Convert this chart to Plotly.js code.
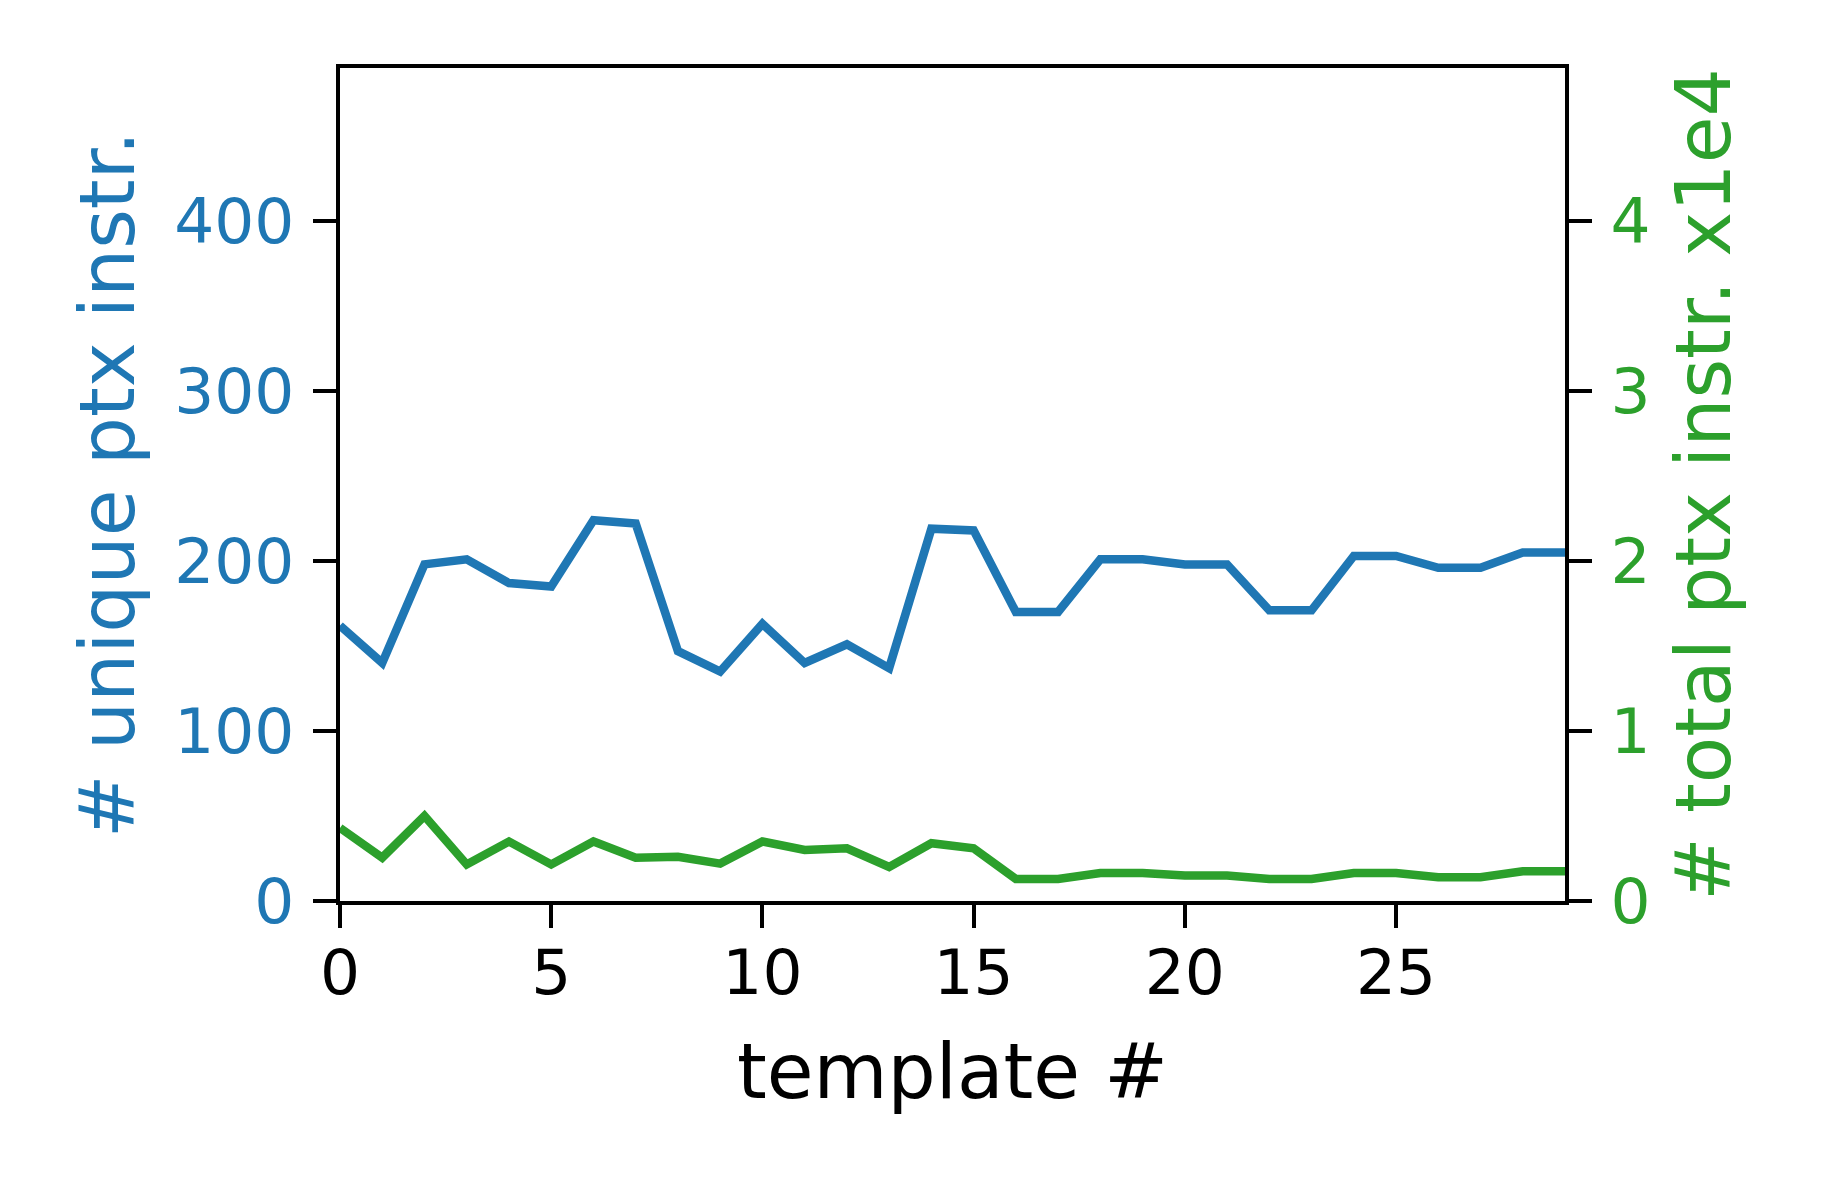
<!DOCTYPE html>
<html>
<head>
<meta charset="utf-8">
<script src="https://cdn.plot.ly/plotly-3.0.1.min.js"></script>
<style>
  html, body { margin: 0; padding: 0; background: #fff; }
  #chart { width: 1827px; height: 1187px; }
</style>
</head>
<body>
<div id="chart"></div>
<script>
// template index
var templates = [0, 1, 2, 3, 4, 5, 6, 7, 8, 9, 10, 11, 12, 13, 14, 15, 16, 17, 18, 19, 20, 21, 22, 23, 24, 25, 26, 27, 28, 29];

// unique ptx instructions per template
var uniqueInstr = [162, 140, 198, 201, 187, 185, 224, 222, 147, 135,
                   163, 140, 151, 137, 219, 218, 170, 170, 201, 201,
                   198, 198, 171, 171, 203, 203, 196, 196, 205, 205];

// total ptx instructions per template (x1e4)
var totalInstr = [0.43, 0.255, 0.50, 0.215, 0.35, 0.215, 0.35, 0.255, 0.26, 0.22,
                  0.35, 0.30, 0.31, 0.20, 0.34, 0.31, 0.13, 0.13, 0.165, 0.165,
                  0.15, 0.15, 0.13, 0.13, 0.165, 0.165, 0.14, 0.14, 0.175, 0.175];

var xTicks = [0, 5, 10, 15, 20, 25];
var yTicks = [0, 100, 200, 300, 400];
var y2Ticks = [0, 1, 2, 3, 4];

var blue = '#1f77b4';
var green = '#2ca02c';
var font = 'DejaVu Sans, sans-serif';

var traceUnique = {
    type: 'scatter',
    mode: 'lines',
    x: templates,
    y: uniqueInstr,
    line: {color: blue, width: 8.5},
    yaxis: 'y',
    hoverinfo: 'x+y'
};

var traceTotal = {
    type: 'scatter',
    mode: 'lines',
    x: templates,
    y: totalInstr,
    line: {color: green, width: 8.5},
    yaxis: 'y2',
    hoverinfo: 'x+y'
};

var layout = {
    width: 1827,
    height: 1187,
    showlegend: false,
    paper_bgcolor: '#fff',
    plot_bgcolor: '#fff',
    margin: {l: 340, r: 262, t: 68, b: 286},
    font: {family: font, size: 63, color: '#000'},
    xaxis: {
        range: [0, 29],
        tickvals: xTicks,
        ticks: 'outside',
        ticklen: 23,
        tickwidth: 4,
        tickcolor: '#000',
        ticklabelstandoff: -10,
        showline: true,
        linewidth: 4,
        linecolor: '#000',
        mirror: true,
        showgrid: false,
        zeroline: false,
        tickfont: {family: font, size: 63, color: '#000'},
        title: {text: 'template #', font: {family: font, size: 76, color: '#000'}, standoff: 38}
    },
    yaxis: {
        range: [0, 490],
        tickvals: yTicks,
        ticks: 'outside',
        ticklen: 23,
        tickwidth: 4,
        tickcolor: '#000',
        ticklabelstandoff: 6,
        showline: true,
        linewidth: 4,
        linecolor: '#000',
        showgrid: false,
        zeroline: false,
        tickfont: {family: font, size: 63, color: blue},
        title: {text: '# unique ptx instr.', font: {family: font, size: 76, color: blue}, standoff: 16}
    },
    yaxis2: {
        overlaying: 'y',
        side: 'right',
        range: [0, 4.9],
        tickvals: y2Ticks,
        ticks: 'outside',
        ticklen: 23,
        tickwidth: 4,
        tickcolor: '#000',
        ticklabelstandoff: 6,
        showline: true,
        linewidth: 4,
        linecolor: '#000',
        showgrid: false,
        zeroline: false,
        tickfont: {family: font, size: 63, color: green},
        title: {text: '# total ptx instr. x1e4', font: {family: font, size: 76, color: green}, standoff: 28}
    }
};

Plotly.newPlot('chart', [traceUnique, traceTotal], layout, {staticPlot: true});
</script>
</body>
</html>
